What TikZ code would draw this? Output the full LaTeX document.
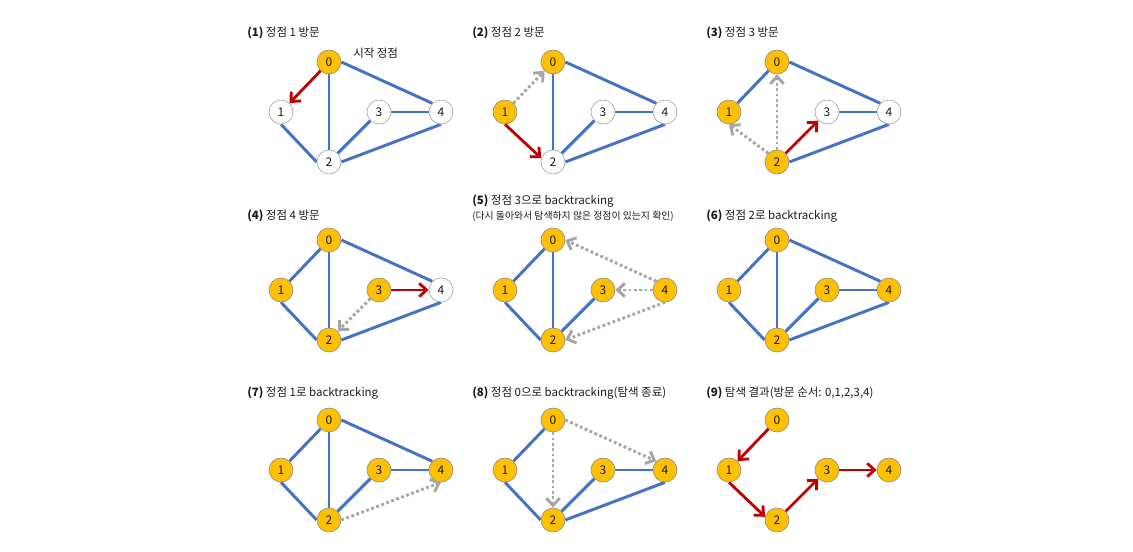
\documentclass[tikz,border=0pt]{standalone}
\usepackage{fontspec}
\setmainfont{Noto Sans CJK KR}
\usetikzlibrary{arrows.meta}
\definecolor{gold}{HTML}{FFC000}
\definecolor{eblue}{HTML}{4472C4}
\definecolor{ered}{HTML}{C00000}
\definecolor{dgray}{HTML}{A6A6A6}
\definecolor{bgray}{HTML}{8C8C8C}
\definecolor{txt}{HTML}{1A1A1A}
\pgfdeclarelayer{background}
\pgfsetlayers{background,main}
\tikzset{
  vtx/.style={circle, draw=bgray, line width=0.5pt, minimum size=18pt, inner sep=0pt,
    text=txt, font=\fontsize{9}{10}\selectfont},
  vis/.style={vtx, fill=gold},
  unv/.style={vtx, fill=white, draw=dgray},
  edge/.style={draw=eblue, line width=2.2pt},
  walk/.style={draw=ered, line width=2.1pt, -{Straight Barb[length=5.5pt,width=10pt]}},
  back/.style={draw=dgray, line width=2.2pt, dash pattern=on 2.1pt off 1.9pt,
    -{Straight Barb[length=5.5pt,width=10pt]}},
  ttl/.style={anchor=west, inner sep=0pt, text=txt, font=\fontsize{8.6}{10}\selectfont},
  sub/.style={anchor=west, inner sep=0pt, text=txt, font=\fontsize{7.4}{8}\selectfont},
}
\newcommand\vnodes[8]{%
  \node[#4] (#1n0) at (#2,#3) {0};
  \node[#5] (#1n1) at ({#2-48},{#3+50}) {1};
  \node[#6] (#1n2) at (#2,{#3+100}) {2};
  \node[#7] (#1n3) at ({#2+50},{#3+50}) {3};
  \node[#8] (#1n4) at ({#2+112},{#3+50}) {4};
}
% edge helpers
\newcommand\eOneTwo[1]{\draw[edge] (#1n1.south) -- (#1n2.west);}
\newcommand\eTwoFour[1]{\draw[edge] (#1n2.east) -- (#1n4.south);}
\newcommand\eZeroFour[1]{\draw[edge] (#1n0.east) -- (#1n4.north west);}
\begin{document}
\begin{tikzpicture}[x=0.75pt,y=-0.75pt]
\begin{pgfonlayer}{background}
\fill[white] (0,0) rectangle (1133,552);
\end{pgfonlayer}
\useasboundingbox (0,0) rectangle (1133,552);

% ---------- titles ----------
\node[ttl] (t1) at (247,33) {\textbf{(1)} 정점 1 방문};
\node[ttl] (t2) at (472,33) {\textbf{(2)} 정점 2 방문};
\node[ttl] (t3) at (706,33) {\textbf{(3)} 정점 3 방문};
\node[ttl] (t4) at (247,216) {\textbf{(4)} 정점 4 방문};
\node[ttl] (t5) at (472,201) {\textbf{(5)} 정점 3으로 backtracking};
\node[sub] (t5b) at (472,216) {(다시 돌아와서 탐색하지 않은 정점이 있는지 확인)};
\node[ttl] (t6) at (706,216) {\textbf{(6)} 정점 2로 backtracking};
\node[ttl] (t7) at (247,393) {\textbf{(7)} 정점 1로 backtracking};
\node[ttl] (t8) at (472,393) {\textbf{(8)} 정점 0으로 backtracking(탐색 종료)};
\node[ttl] (t9) at (706,393) {\textbf{(9)} 탐색 결과(방문 순서: 0,1,2,3,4)};
\node[ttl] (start) at (353,53) {시작 정점};

% ---------- panel 1 ----------
\vnodes{a}{329}{62}{vis}{unv}{unv}{unv}{unv}
\begin{pgfonlayer}{background}
\draw[edge] (an0) -- (an2); \eZeroFour{a} \eOneTwo{a}
\draw[edge] (an2) -- (an3); \draw[edge] (an3) -- (an4); \eTwoFour{a}
\end{pgfonlayer}
\draw[walk] (an0) -- (an1);

% ---------- panel 2 ----------
\vnodes{b}{553}{62}{vis}{vis}{unv}{unv}{unv}
\begin{pgfonlayer}{background}
\draw[edge] (bn0) -- (bn2); \eZeroFour{b}
\draw[edge] (bn2) -- (bn3); \draw[edge] (bn3) -- (bn4); \eTwoFour{b}
\end{pgfonlayer}
\draw[back] (bn1) -- (bn0);
\draw[walk] (bn1.south) -- (bn2.162);

% ---------- panel 3 ----------
\vnodes{c}{777}{62}{vis}{vis}{vis}{unv}{unv}
\begin{pgfonlayer}{background}
\draw[edge] (cn0) -- (cn1); \eZeroFour{c}
\draw[edge] (cn3) -- (cn4); \eTwoFour{c}
\end{pgfonlayer}
\draw[back] (cn2) -- (cn0);
\draw[back] (cn2.north west) -- (cn1.south);
\draw[walk] (cn2) -- (cn3);

% ---------- panel 4 ----------
\vnodes{d}{329}{240}{vis}{vis}{vis}{vis}{unv}
\begin{pgfonlayer}{background}
\draw[edge] (dn0) -- (dn1); \draw[edge] (dn0) -- (dn2); \eZeroFour{d}
\eOneTwo{d} \eTwoFour{d}
\end{pgfonlayer}
\draw[back] (dn3) -- (dn2);
\draw[walk] (dn3) -- (dn4);

% ---------- panel 5 ----------
\vnodes{e}{553}{240}{vis}{vis}{vis}{vis}{vis}
\begin{pgfonlayer}{background}
\draw[edge] (en0) -- (en1); \draw[edge] (en0) -- (en2);
\eOneTwo{e} \draw[edge] (en2) -- (en3);
\end{pgfonlayer}
\draw[back] (en4.north west) -- (en0.east);
\draw[back] (en4) -- (en3);
\draw[back] (en4.south) -- (en2.east);

% ---------- panel 6 ----------
\vnodes{f}{777}{240}{vis}{vis}{vis}{vis}{vis}
\begin{pgfonlayer}{background}
\draw[edge] (fn0) -- (fn1); \draw[edge] (fn0) -- (fn2); \eZeroFour{f}
\eOneTwo{f} \draw[edge] (fn2) -- (fn3); \draw[edge] (fn3) -- (fn4);
\eTwoFour{f}
\end{pgfonlayer}

% ---------- panel 7 ----------
\vnodes{g}{329}{420}{vis}{vis}{vis}{vis}{vis}
\begin{pgfonlayer}{background}
\draw[edge] (gn0) -- (gn1); \draw[edge] (gn0) -- (gn2); \eZeroFour{g}
\eOneTwo{g} \draw[edge] (gn2) -- (gn3); \draw[edge] (gn3) -- (gn4);
\end{pgfonlayer}
\draw[back] (gn2.east) -- (gn4.south);

% ---------- panel 8 ----------
\vnodes{h}{553}{420}{vis}{vis}{vis}{vis}{vis}
\begin{pgfonlayer}{background}
\draw[edge] (hn0) -- (hn1); \eOneTwo{h}
\draw[edge] (hn2) -- (hn3); \draw[edge] (hn3) -- (hn4); \eTwoFour{h}
\end{pgfonlayer}
\draw[back] (hn0) -- (hn2);
\draw[back] (hn0.east) -- (hn4.north west);

% ---------- panel 9 ----------
\vnodes{k}{777}{420}{vis}{vis}{vis}{vis}{vis}
\draw[walk] (kn0) -- (kn1);
\draw[walk] (kn1.south) -- (kn2.165);
\draw[walk] (kn2) -- (kn3);
\draw[walk] (kn3) -- (kn4);
\end{tikzpicture}
\end{document}
